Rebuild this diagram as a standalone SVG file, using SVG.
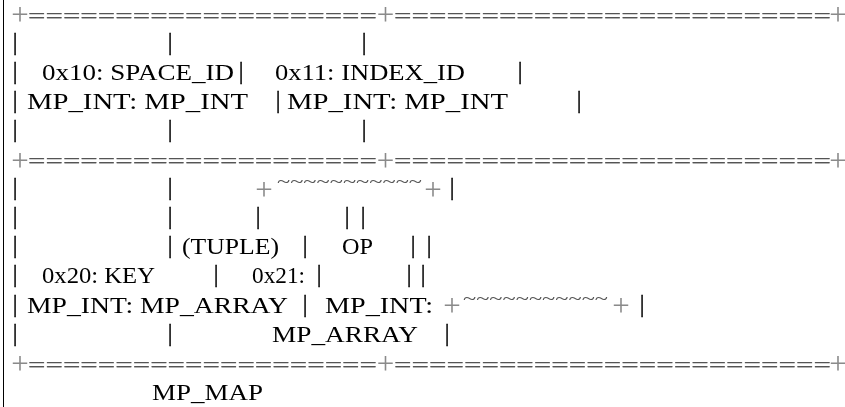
<svg xmlns="http://www.w3.org/2000/svg" width="845" height="407" viewBox="0 0 845 407">
<style>
text{font-family:"Liberation Serif","Times New Roman",serif;}
.t{font-size:23px;fill:#000;}
.p{font-size:26px;fill:#000;text-anchor:middle;stroke:#000;stroke-width:0.3;}
.pl{font-size:31px;fill:#8a8a8a;text-anchor:middle;}
.eq{font-size:22px;fill:#555;stroke:#555;stroke-width:0.25;}
.tl{font-size:18px;fill:#555;}
</style>
<defs>
<filter id="gs" x="0" y="0" width="845" height="407" filterUnits="userSpaceOnUse">
<feOffset dx="0" dy="0"/>
</filter>
</defs>
<rect width="845" height="407" fill="#fff"/>
<g filter="url(#gs)">
<g id="connectors">
<line x1="3.5" y1="0" x2="3.5" y2="407" stroke="#000" stroke-width="1"/>
<g id="border-top">
<text class="pl" x="20" y="25">+</text>
<text class="eq" x="28" y="22.5" textLength="349" lengthAdjust="spacingAndGlyphs">====================</text>
<text class="pl" x="385.5" y="25">+</text>
<text class="eq" x="394" y="22.5" textLength="437" lengthAdjust="spacingAndGlyphs">=========================</text>
<text class="pl" x="838" y="25">+</text>
</g>
<g id="border-mid">
<text class="pl" x="20" y="170.5">+</text>
<text class="eq" x="28" y="168" textLength="349" lengthAdjust="spacingAndGlyphs">====================</text>
<text class="pl" x="385.5" y="170.5">+</text>
<text class="eq" x="394" y="168" textLength="437" lengthAdjust="spacingAndGlyphs">=========================</text>
<text class="pl" x="838" y="170.5">+</text>
</g>
<g id="border-bottom">
<text class="pl" x="20" y="374.2">+</text>
<text class="eq" x="28" y="371.7" textLength="349" lengthAdjust="spacingAndGlyphs">====================</text>
<text class="pl" x="385.5" y="374.2">+</text>
<text class="eq" x="394" y="371.7" textLength="437" lengthAdjust="spacingAndGlyphs">=========================</text>
<text class="pl" x="838" y="374.2">+</text>
</g>
<g id="pipes">
<text class="p" x="15" y="49.6">|</text><text class="p" x="170" y="49.6">|</text><text class="p" x="364" y="49.6">|</text>
<text class="p" x="15" y="78.7">|</text><text class="p" x="241" y="78.7">|</text><text class="p" x="520" y="78.7">|</text>
<text class="p" x="15" y="107.8">|</text><text class="p" x="278" y="107.8">|</text><text class="p" x="579" y="107.8">|</text>
<text class="p" x="15" y="136.9">|</text><text class="p" x="170" y="136.9">|</text><text class="p" x="364" y="136.9">|</text>
<text class="p" x="15" y="195.1">|</text><text class="p" x="170" y="195.1">|</text><text class="p" x="452" y="195.1">|</text>
<text class="p" x="15" y="224.2">|</text><text class="p" x="170" y="224.2">|</text><text class="p" x="258" y="224.2">|</text><text class="p" x="347" y="224.2">|</text><text class="p" x="363" y="224.2">|</text>
<text class="p" x="15" y="253.3">|</text><text class="p" x="170" y="253.3">|</text><text class="p" x="305" y="253.3">|</text><text class="p" x="413" y="253.3">|</text><text class="p" x="429" y="253.3">|</text>
<text class="p" x="15" y="282.4">|</text><text class="p" x="216" y="282.4">|</text><text class="p" x="319" y="282.4">|</text><text class="p" x="409" y="282.4">|</text><text class="p" x="423" y="282.4">|</text>
<text class="p" x="15" y="311.5">|</text><text class="p" x="305" y="311.5">|</text><text class="p" x="642" y="311.5">|</text>
<text class="p" x="15" y="340.6">|</text><text class="p" x="170" y="340.6">|</text><text class="p" x="447" y="340.6">|</text>
</g>
</g>
<g id="cell-space-id">
<text class="t" x="42" y="79.7" textLength="192" lengthAdjust="spacingAndGlyphs">0x10: SPACE_ID</text>
<text class="t" x="27" y="108.8" textLength="221" lengthAdjust="spacingAndGlyphs">MP_INT: MP_INT</text>
</g>
<g id="cell-index-id">
<text class="t" x="275" y="79.7" textLength="190" lengthAdjust="spacingAndGlyphs">0x11: INDEX_ID</text>
<text class="t" x="287" y="108.8" textLength="221" lengthAdjust="spacingAndGlyphs">MP_INT: MP_INT</text>
</g>
<g id="cell-key">
<text class="t" x="42" y="283.4" textLength="113" lengthAdjust="spacingAndGlyphs">0x20: KEY</text>
<text class="t" x="27" y="312.5" textLength="261" lengthAdjust="spacingAndGlyphs">MP_INT: MP_ARRAY</text>
</g>
<g id="cell-tuple">
<text class="t" x="182" y="254.3" textLength="97" lengthAdjust="spacingAndGlyphs">(TUPLE)</text>
<text class="t" x="252" y="283.4" textLength="53" lengthAdjust="spacingAndGlyphs">0x21:</text>
<text class="t" x="325" y="312.5" textLength="108" lengthAdjust="spacingAndGlyphs">MP_INT:</text>
<text class="t" x="272" y="341.6" textLength="146" lengthAdjust="spacingAndGlyphs">MP_ARRAY</text>
</g>
<g id="op-box">
<text class="pl" x="264" y="199.6">+</text>
<text class="tl" x="277" y="188" textLength="145" lengthAdjust="spacingAndGlyphs">~~~~~~~~~~~</text>
<text class="pl" x="433" y="199.6">+</text>
<text class="t" x="342" y="254.3" textLength="31" lengthAdjust="spacingAndGlyphs">OP</text>
<text class="pl" x="452" y="316">+</text>
<text class="tl" x="463" y="304.5" textLength="145" lengthAdjust="spacingAndGlyphs">~~~~~~~~~~~</text>
<text class="pl" x="621" y="316">+</text>
</g>
<g id="map-label">
<text class="t" x="152" y="399.8" textLength="111" lengthAdjust="spacingAndGlyphs">MP_MAP</text>
</g>
</g>
</svg>
